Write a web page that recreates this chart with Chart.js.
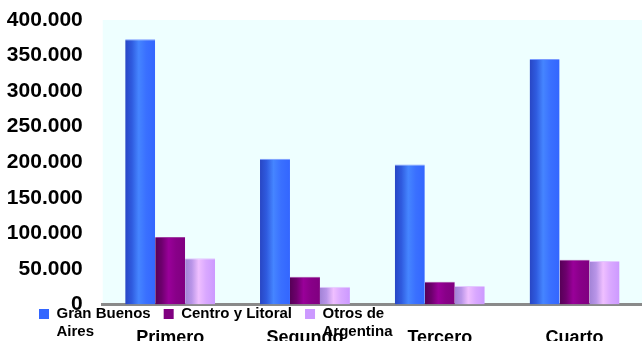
<!DOCTYPE html>
<html>
<head>
<meta charset="utf-8">
<script src="https://cdn.jsdelivr.net/npm/chart.js@4/dist/chart.umd.min.js"></script>
<style>
    html, body { margin: 0; padding: 0; background: #ffffff; }
    #chartBox { width: 642px; height: 341px; }
</style>
</head>
<body>
<div id="chartBox"><canvas id="viajesChart" width="642" height="341"></canvas></div>
<script>
// datos
const trimestres = ['Primero', 'Segundo', 'Tercero', 'Cuarto'];
const regiones = ['Gran Buenos Aires', 'Centro y Litoral', 'Otros de Argentina'];
const leyenda = [['Gran Buenos', 'Aires'], 'Centro y Litoral', ['Otros de', 'Argentina']];
const granBuenosAires = [373000, 205000, 197000, 345000];
const centroLitoral = [95000, 39000, 32000, 63000];
const otrosArgentina = [65000, 25000, 26000, 61000];
const yMax = 400000;
const yPaso = 50000;

// colores (sombreado tipo cilindro)
const colores = ['#3366ff', '#800080', '#cc99ff'];
const bordes = ['#7c9cff', '#a040a0', '#e2c9ff'];
const sombras = [
    [[0, '#2846c4'], [0.22, '#2f5bdf'], [0.45, '#4585ff'], [0.7, '#3a70ff'], [1, '#3366ff']],
    [[0, '#560056'], [0.22, '#6e006e'], [0.45, '#990099'], [0.7, '#880088'], [1, '#800080']],
    [[0, '#a283d6'], [0.22, '#b995e8'], [0.45, '#efbfff'], [0.7, '#d9a8ff'], [1, '#cc99ff']]
];
const CAT_PCT = 0.667;

function cilindro(i) {
    return function (c) {
        const x = c.chart.scales.x;
        if (c.type !== 'data' || !x) return colores[i];
        const w = (x.right - x.left) / trimestres.length * CAT_PCT / regiones.length;
        const left = x.getPixelForValue(c.dataIndex) - w * regiones.length / 2 + c.datasetIndex * w;
        if (!isFinite(w) || !isFinite(left) || w <= 0) return colores[i];
        const g = c.chart.ctx.createLinearGradient(left, 0, left + w, 0);
        sombras[i].forEach(s => g.addColorStop(s[0], s[1]));
        return g;
    };
}

function miles(v) {
    return String(v).replace(/\B(?=(\d{3})+(?!\d))/g, '.');
}

// fondo celeste del area de trazado
const fondoArea = {
    id: 'fondoArea',
    beforeDraw(chart) {
        const a = chart.chartArea;
        const ctx = chart.ctx;
        ctx.save();
        ctx.fillStyle = '#eeffff';
        ctx.fillRect(a.left, a.top, a.right - a.left, a.bottom - a.top);
        ctx.restore();
    }
};

// la leyenda usa textos de dos lineas: medir la linea mas larga
const leyendaMultilinea = {
    id: 'leyendaMultilinea',
    beforeInit(chart) {
        const ctx = chart.ctx;
        const medir = ctx.measureText.bind(ctx);
        ctx.measureText = t => Array.isArray(t)
            ? t.map(s => medir(s)).reduce((a, b) => (b.width > a.width ? b : a))
            : medir(t);
    }
};

// la leyenda queda encima de las etiquetas del eje x, como en el original
const subirLeyenda = {
    id: 'subirLeyenda',
    afterLayout(chart) {
        const lg = chart.legend;
        if (!lg) return;
        lg.top = chart.chartArea.bottom - 11;
        lg.bottom = chart.height;
        lg.height = lg.bottom - lg.top;
        lg.left += 26;
        lg.right += 26;
    }
};

Chart.defaults.font.family = '"Liberation Sans", Arial, sans-serif';
Chart.defaults.color = '#000000';

const series = [granBuenosAires, centroLitoral, otrosArgentina];

new Chart(document.getElementById('viajesChart').getContext('2d'), {
    type: 'bar',
    data: {
        labels: trimestres,
        datasets: series.map((vals, i) => ({
            label: regiones[i],
            data: vals,
            backgroundColor: cilindro(i),
            borderColor: bordes[i],
            borderWidth: { top: 1, left: 0, right: 0, bottom: 0 },
            borderSkipped: 'start',
            categoryPercentage: CAT_PCT,
            barPercentage: 1
        }))
    },
    options: {
        responsive: false,
        animation: false,
        layout: {
            padding: { left: 0, top: 20, right: -2.75, bottom: -38 }
        },
        plugins: {
            tooltip: { enabled: false },
            legend: {
                position: 'bottom',
                align: 'start',
                labels: {
                    boxWidth: 10,
                    boxHeight: 10,
                    padding: 13,
                    color: '#000000',
                    font: { size: 15, weight: 'bold', lineHeight: 1.2 },
                    generateLabels(chart) {
                        const items = Chart.defaults.plugins.legend.labels.generateLabels(chart);
                        return items.map((it, i) => Object.assign(it, {
                            text: leyenda[i],
                            fillStyle: colores[i],
                            strokeStyle: colores[i],
                            lineWidth: 0
                        }));
                    }
                }
            }
        },
        scales: {
            x: {
                grid: { display: false, drawTicks: false },
                border: { display: true, color: '#8a8a8a', width: 3 },
                ticks: {
                    padding: 22.5,
                    maxRotation: 0,
                    color: '#000000',
                    font: { size: 18, weight: 'bold', lineHeight: 1.2 }
                },
                afterFit(scale) { scale.height = 36.5; }
            },
            y: {
                min: 0,
                max: yMax,
                grid: { display: false, drawTicks: false },
                border: { display: false },
                ticks: {
                    stepSize: yPaso,
                    padding: 20,
                    color: '#000000',
                    font: { size: 21, weight: 'bold' },
                    callback: v => miles(v)
                },
                afterFit(scale) {
                    scale.width = 102.75;
                    scale.paddingTop = 0;
                    scale.paddingBottom = 0;
                }
            }
        }
    },
    plugins: [fondoArea, leyendaMultilinea, subirLeyenda]
});
</script>
</body>
</html>
